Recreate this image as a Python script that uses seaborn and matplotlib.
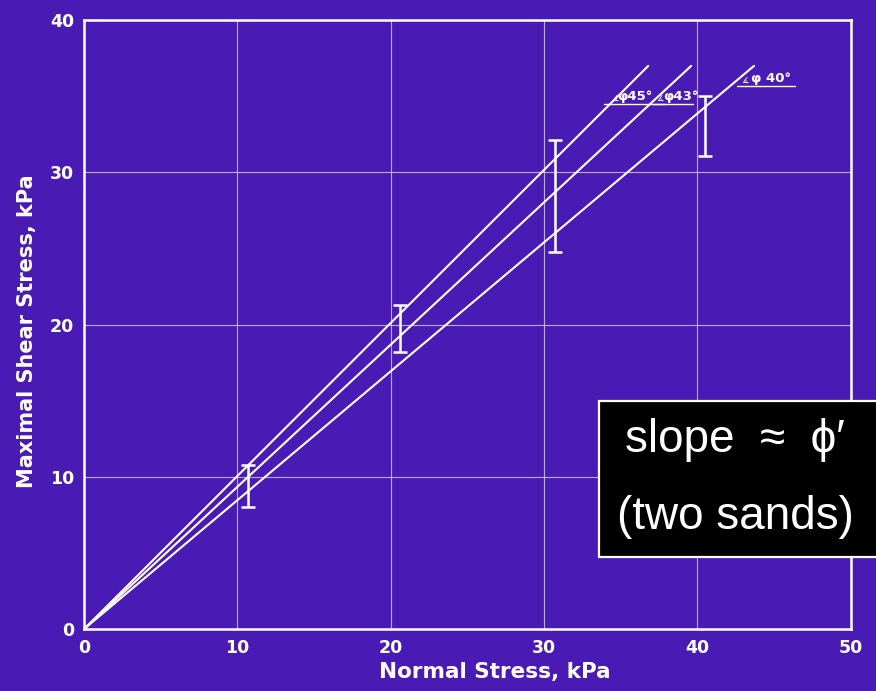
import numpy as np
import pandas as pd
import matplotlib
matplotlib.use("Agg")
import matplotlib.pyplot as plt
import matplotlib.patches as mpatches
import seaborn as sns

# ---- data ----
angles = [45, 43, 40]                 # friction angles (deg)
line_x_end = [36.8, 39.6, 43.7]       # Normal stress where each envelope ends
line_y_end = [37.0, 37.0, 37.0]       # Shear stress where each envelope ends
bar_x = [10.7, 20.6, 30.7, 40.5]
bar_low = [8.0, 18.2, 24.8, 31.1]
bar_high = [10.8, 21.3, 32.1, 35.0]
x_ticks = [0, 10, 20, 30, 40, 50]
y_ticks = [0, 10, 20, 30, 40]

bg = "#4a1bb4"

sns.set_theme(style="white")
plt.rcParams['font.family'] = ['DejaVu Sans']

fig = plt.figure(figsize=(8.76, 6.91), dpi=100, facecolor=bg)
ax = fig.add_axes([0.096, 0.0897, 0.875, 0.881])
ax.set_facecolor(bg)

rows = []
for a, xe, ye in zip(angles, line_x_end, line_y_end):
    rows.append({"phi": a, "x": 0.0, "y": 0.0})
    rows.append({"phi": a, "x": xe, "y": ye})
df = pd.DataFrame(rows)
sns.lineplot(data=df, x="x", y="y", units="phi", estimator=None,
             color="white", lw=1.5, ax=ax, legend=False, sort=False)

mid = [(l + h) / 2 for l, h in zip(bar_low, bar_high)]
err = [(h - l) / 2 for l, h in zip(bar_low, bar_high)]
ax.errorbar(bar_x, mid, yerr=err, fmt="none", ecolor="white",
            elinewidth=1.8, capsize=5, capthick=1.8)

# angle labels
lab_kw = dict(color="white", fontsize=9.5, fontweight="bold", va="bottom")
ax.plot([33.9, 37.9], [34.5, 34.5], color="white", lw=1.0)
ax.plot([37.1, 39.7], [34.5, 34.5], color="white", lw=1.0)
ax.plot([42.6, 46.4], [35.7, 35.7], color="white", lw=1.0)
ax.text(34.8, 34.55, "φ45°", ha="left", **lab_kw)
ax.text(37.8, 34.55, "φ43°", ha="left", **lab_kw)
ax.text(43.5, 35.75, "φ 40°", ha="left", **lab_kw)
ax.text(34.4, 34.5, "∡", color="white", fontsize=6, va="bottom")
ax.text(37.3, 34.5, "∡", color="white", fontsize=6, va="bottom")
ax.text(42.9, 35.7, "∡", color="white", fontsize=6, va="bottom")

ax.set_xlim(0, 50)
ax.set_ylim(0, 40)
ax.set_xticks(x_ticks)
ax.set_yticks(y_ticks)
ax.grid(True, color="#d8d0f0", lw=0.8, alpha=0.8)
for s in ax.spines.values():
    s.set_visible(True)
    s.set_color("white")
    s.set_linewidth(1.8)
ax.tick_params(colors="white", labelsize=12.5, length=0, pad=7)
for t in ax.get_xticklabels() + ax.get_yticklabels():
    t.set_fontweight("bold")
ax.set_xlabel("Normal Stress, kPa", color="white", fontsize=15.5,
              fontweight="bold")
ax.set_ylabel("Maximal Shear Stress, kPa", color="white", fontsize=15,
              fontweight="bold")
ax.xaxis.set_label_coords(0.536, -0.054)
ax.yaxis.set_label_coords(-0.061, 0.489)

# overlay box
box = mpatches.Rectangle((0.684, 0.194), 0.33, 0.226, transform=fig.transFigure,
                         facecolor="black", edgecolor="white", lw=1.6,
                         zorder=10)
fig.patches.append(box)
txt_kw = dict(color="white", fontsize=33, family=["Liberation Sans", "DejaVu Sans"],
              ha="center", va="center", zorder=11)
fig.text(0.839, 0.363, "slope  ≈  ϕ′", **txt_kw)
fig.text(0.839, 0.252, "(two sands)", **txt_kw)

fig.savefig("out.png", dpi=100, facecolor=bg)
